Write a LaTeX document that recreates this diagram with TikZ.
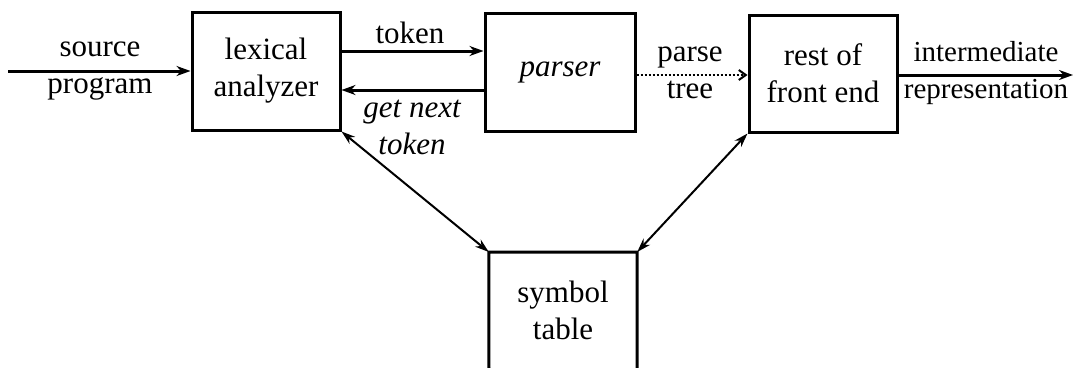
\documentclass[tikz,border=0pt]{standalone}
\usepackage{fontspec}
\setmainfont{Liberation Serif}
\usetikzlibrary{arrows.meta}
\begin{document}
\begin{tikzpicture}[x=1pt,y=-1pt,
  every node/.style={font=\fontsize{31}{37}\selectfont, inner sep=0pt},
  box/.style={draw, line width=3pt, minimum width=148pt, minimum height=118pt, align=center},
  lbl/.style={align=center},
  harrow/.style={line width=3pt, -{Stealth[length=14pt,width=10pt]}},
  darrow/.style={line width=2pt, {Stealth[length=14pt,width=9pt]}-{Stealth[length=14pt,width=9pt]}},
  dotarrow/.style={line width=2pt, dotted, -{Straight Barb[length=7pt,width=10pt]}}]
\useasboundingbox (0,0) rectangle (1073,367);
\node[box] (lex) at (266,71) {lexical\\analyzer};
\node[box, minimum width=150pt] (par) at (560,72) {\itshape parser};
\node[box, minimum height=117pt] (rest) at (823,73.5) {rest of\\front end};
\node[align=center, minimum width=148pt, minimum height=116pt, anchor=north] (sym) at (563,252) {symbol\\table};
\coordinate (symbl) at (489,372);
\coordinate (symbr) at (637,372);
\draw[line width=3pt] (symbl) -- (sym.north west) -- (sym.north east) -- (symbr);
\coordinate (src) at (8,71);
\coordinate (out) at (1073,75);
\draw[harrow] (src) -- (lex.west);
\draw[harrow] ([yshift=20pt]lex.east) -- ([yshift=21pt]par.west);
\draw[harrow] ([yshift=-18pt]par.west) -- ([yshift=-19pt]lex.east);
\draw[dotarrow] ([yshift=-3pt]par.east) -- ([yshift=-1.5pt]rest.west);
\draw[harrow] ([yshift=-1.5pt]rest.east) -- (out);
\draw[darrow] (lex.south east) -- (sym.north west);
\draw[darrow] (rest.south west) -- (sym.north east);
\node[lbl] (srcl) at (100,71) {source\\program};
\node[lbl] (tokl) at (410,33) {token};
\node[lbl, font=\fontsize{31}{37}\selectfont\itshape] (gnt) at (412,127) {get next\\token};
\node[lbl] (ptl) at (690,73) {parse\\tree};
\node[lbl, font=\fontsize{29}{37}\selectfont] (irl) at (986,73) {intermediate\\representation};
\end{tikzpicture}
\end{document}
